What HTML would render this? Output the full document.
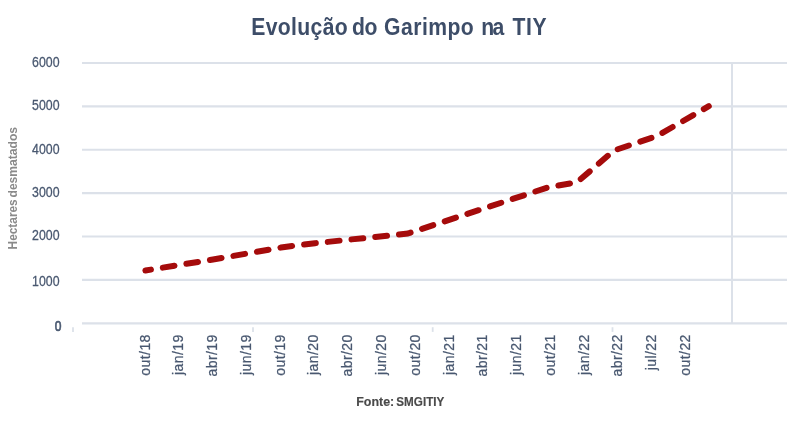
<!DOCTYPE html>
<html lang="pt-BR">
<head>
<meta charset="utf-8">
<title>Evolução do Garimpo na TIY</title>
<style>
html,body{margin:0;padding:0;background:#fff;}
body{width:800px;height:424px;overflow:hidden;}
svg{display:block;will-change:transform;}
text{font-family:"Liberation Sans",sans-serif;}
.t{font-weight:bold;font-size:23.5px;fill:#3d4d68;}
.yl{font-size:15px;fill:#495870;text-anchor:end;stroke:#495870;stroke-width:0.3px;}
.xl{letter-spacing:0.45px;font-size:14px;fill:#495870;text-anchor:end;stroke:#495870;stroke-width:0.25px;}
.ax{font-size:12.5px;fill:#8a8a8a;font-weight:bold;}
.src{font-weight:bold;font-size:12px;fill:#4a4a4a;stroke:#4a4a4a;stroke-width:0.15px;}
</style>
</head>
<body>
<svg width="800" height="424" viewBox="0 0 800 424">
<rect width="800" height="424" fill="#fff"/>
<text class="t" transform="scale(0.9 1)" y="34.6"><tspan x="279.17" textLength="107.22" lengthAdjust="spacing">Evolução</tspan> <tspan x="391.00" textLength="28.44" lengthAdjust="spacing">do</tspan> <tspan x="426.78" textLength="99.61" lengthAdjust="spacing">Garimpo</tspan> <tspan x="534.78" textLength="25.44" lengthAdjust="spacing">na</tspan> <tspan x="569.33" textLength="37.89" lengthAdjust="spacing">TIY</tspan></text>
<line x1="82" x2="787" y1="63.00" y2="63.00" stroke="#dce1e9" stroke-width="2.2"/>
<line x1="82" x2="787" y1="106.38" y2="106.38" stroke="#dce1e9" stroke-width="2.2"/>
<line x1="82" x2="787" y1="149.76" y2="149.76" stroke="#dce1e9" stroke-width="2.2"/>
<line x1="82" x2="787" y1="193.14" y2="193.14" stroke="#dce1e9" stroke-width="2.2"/>
<line x1="82" x2="787" y1="236.52" y2="236.52" stroke="#dce1e9" stroke-width="2.2"/>
<line x1="82" x2="787" y1="279.90" y2="279.90" stroke="#dce1e9" stroke-width="2.2"/>
<line x1="82" x2="787" y1="323.28" y2="323.28" stroke="#dce1e9" stroke-width="2.2"/>
<line x1="732" x2="732" y1="63.00" y2="323.28" stroke="#dce1e9" stroke-width="2"/>
<line x1="73" x2="73" y1="327.2" y2="331.9" stroke="#dce1e9" stroke-width="1.8"/>
<line x1="253" x2="253" y1="327.2" y2="331.9" stroke="#dce1e9" stroke-width="1.8"/>
<line x1="432.7" x2="432.7" y1="327.2" y2="331.9" stroke="#dce1e9" stroke-width="1.8"/>
<line x1="612.5" x2="612.5" y1="327.2" y2="331.9" stroke="#dce1e9" stroke-width="1.8"/>
<text class="yl" x="59.5" y="66.80" textLength="27.4" lengthAdjust="spacingAndGlyphs">6000</text>
<text class="yl" x="59.5" y="110.18" textLength="27.4" lengthAdjust="spacingAndGlyphs">5000</text>
<text class="yl" x="59.5" y="153.56" textLength="27.4" lengthAdjust="spacingAndGlyphs">4000</text>
<text class="yl" x="59.5" y="196.94" textLength="27.4" lengthAdjust="spacingAndGlyphs">3000</text>
<text class="yl" x="59.5" y="240.32" textLength="27.4" lengthAdjust="spacingAndGlyphs">2000</text>
<text class="yl" x="59.5" y="285.80" textLength="27.4" lengthAdjust="spacingAndGlyphs">1000</text>
<text class="yl" x="61.5" y="331.08" textLength="6.7" lengthAdjust="spacingAndGlyphs" style="stroke-width:0.7px">0</text>
<text class="ax" transform="translate(17.2 249.4) rotate(-90)"><tspan x="0" textLength="50.1" lengthAdjust="spacingAndGlyphs">Hectares</tspan> <tspan x="51.9" textLength="70.6" lengthAdjust="spacingAndGlyphs">desmatados</tspan></text>
<text class="xl" transform="translate(149.55 334.15) rotate(-90)">out/18</text>
<text class="xl" transform="translate(183.33 334.15) rotate(-90)">jan/19</text>
<text class="xl" transform="translate(217.11 334.15) rotate(-90)">abr/19</text>
<text class="xl" transform="translate(250.89 334.15) rotate(-90)">jun/19</text>
<text class="xl" transform="translate(284.67 334.15) rotate(-90)">out/19</text>
<text class="xl" transform="translate(318.45 334.15) rotate(-90)">jan/20</text>
<text class="xl" transform="translate(352.23 334.15) rotate(-90)">abr/20</text>
<text class="xl" transform="translate(386.01 334.15) rotate(-90)">jun/20</text>
<text class="xl" transform="translate(419.79 334.15) rotate(-90)">out/20</text>
<text class="xl" transform="translate(453.57 334.15) rotate(-90)">jan/21</text>
<text class="xl" transform="translate(487.35 334.15) rotate(-90)">abr/21</text>
<text class="xl" transform="translate(521.13 334.15) rotate(-90)">jun/21</text>
<text class="xl" transform="translate(554.91 334.15) rotate(-90)">out/21</text>
<text class="xl" transform="translate(588.69 334.15) rotate(-90)">jan/22</text>
<text class="xl" transform="translate(622.47 334.15) rotate(-90)">abr/22</text>
<text class="xl" transform="translate(656.25 334.15) rotate(-90)">jul/22</text>
<text class="xl" transform="translate(690.03 334.15) rotate(-90)">out/22</text>
<path d="M145.4 270.5 L213 259.5 L281 247.5 L315 243.2 L408 233.5 L549 187 L577 182.3 L614 150.5 L657 136 L708.8 106.2" fill="none" stroke="#a50b0b" stroke-width="6" stroke-linecap="round" stroke-linejoin="round" stroke-dasharray="11.8 12.06" stroke-dashoffset="6.2"/>
<text class="src" y="405.7"><tspan x="356.2" textLength="38" lengthAdjust="spacingAndGlyphs">Fonte:</tspan> <tspan x="396.3" textLength="48" lengthAdjust="spacingAndGlyphs">SMGITIY</tspan></text>
</svg>
</body>
</html>
